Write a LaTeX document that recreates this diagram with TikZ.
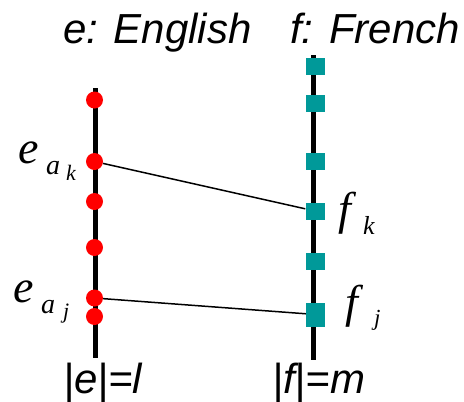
\documentclass[tikz,border=0pt]{standalone}
\usepackage{fontspec}
\newfontfamily\headfont{Liberation Sans}
\newfontfamily\symfont{Liberation Serif}
\definecolor{frteal}{RGB}{0,153,153}

\begin{document}
\begin{tikzpicture}[x=1pt,y=-1pt]
\tikzset{
  wordline/.style={line width=5pt},
  align/.style={line width=1.5pt},
  endot/.style={circle,fill=red,inner sep=0,minimum size=17pt},
  frsq/.style={rectangle,fill=frteal,inner sep=0,minimum width=19pt,minimum height=17pt},
  head/.style={anchor=base west,inner sep=0,font=\headfont\itshape\fontsize{42}{42}\selectfont},
  sym/.style={anchor=base west,inner sep=0,font=\symfont\itshape\fontsize{#1}{#1}\selectfont}
}
\useasboundingbox (0,0) rectangle (464,402);
% headings
\node[head] (ehead) at (63,43) {e: English};
\node[head] (fhead) at (290,43) {f: French};
% the two sentences
\coordinate (etop) at (95,88);
\coordinate (ebot) at (95,358);
\coordinate (ftop) at (313,55);
\coordinate (fbot) at (313,360);
\draw[wordline] (etop)--(ebot);
\draw[wordline] (ftop)--(fbot);
% English words
\foreach \n/\y in {e1/100,ek/161.5,e3/201.5,e4/247.5,ej/298,e6/316.5}
  {\node[endot] (\n) at (94.5,\y) {};}
% French words
\foreach \n/\y in {f1/66.5,f2/103.5,f3/161.5,fk/211,f5/261.5}
  {\node[frsq] (\n) at (315,\y) {};}
\node[frsq,minimum height=24pt] (fj) at (315.5,314.5) {};
% alignment links
\draw[align] (ek)--(fk);
\draw[align] (ej)--(fj);
% labels
\node[sym=46] (eak) at (18,163) {e};
\node[sym=28] (eaka) at (46,174) {a};
\node[sym=22] (eakk) at (66,180) {k};
\node[sym=46] (eaj) at (13,302) {e};
\node[sym=28] (eaja) at (41,313) {a};
\node[sym=22] (eajj) at (63,318) {j};
\node[sym=46] (fkf) at (338,224) {f};
\node[sym=26] (fkk) at (363,234) {k};
\node[sym=46] (fjf) at (345,317) {f};
\node[sym=23] (fjj) at (374,325) {j};
% lengths
\node[head] (elen) at (63,393) {|e|=l};
\node[head] (flen) at (272,393) {|f|=m};
\end{tikzpicture}
\end{document}
